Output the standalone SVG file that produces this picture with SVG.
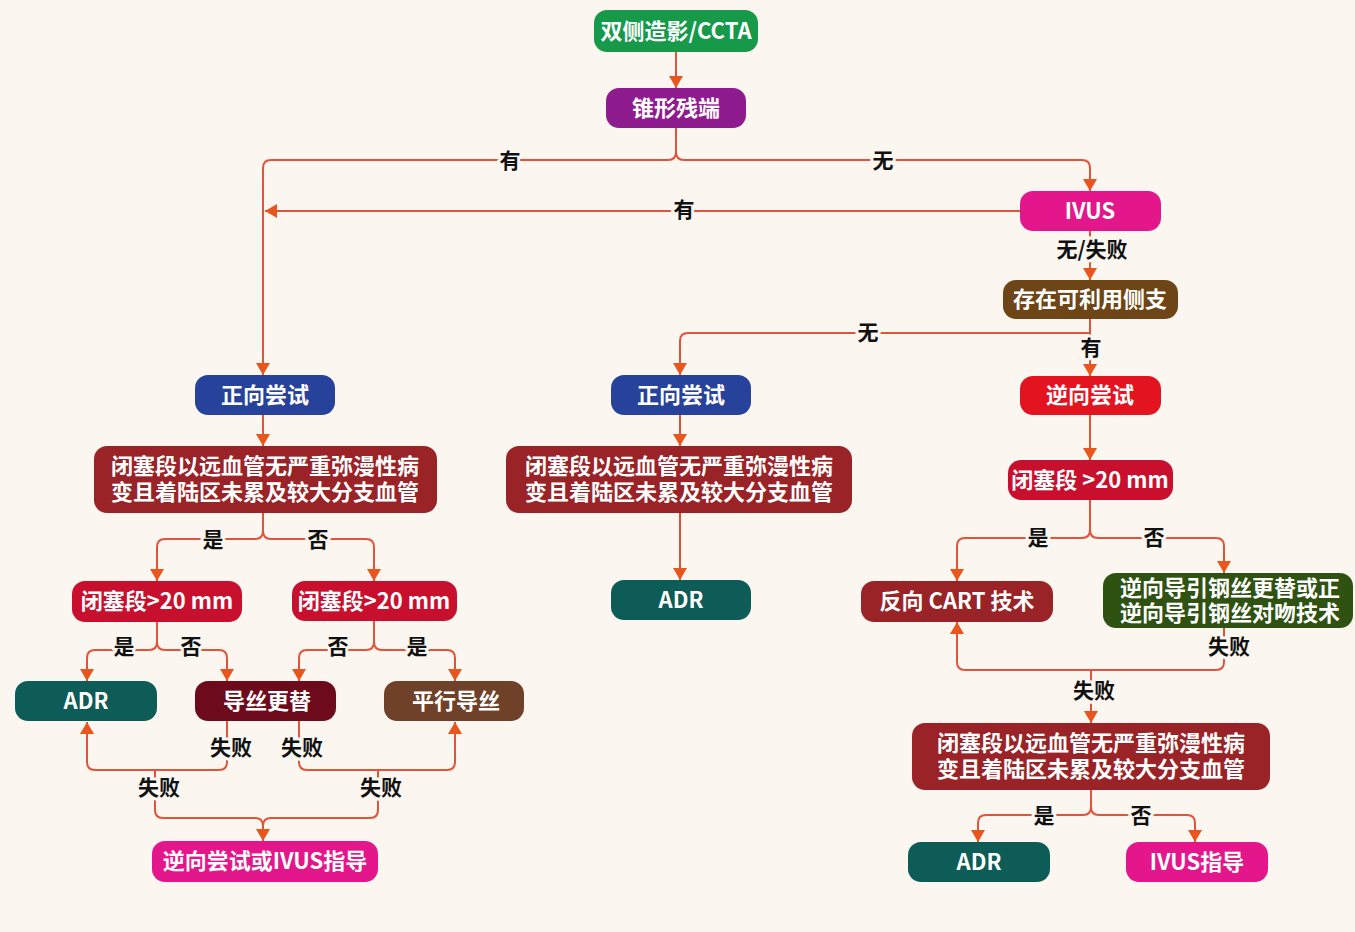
<svg xmlns="http://www.w3.org/2000/svg" width="1355" height="932" viewBox="0 0 1355 932">
<defs>
<marker id="arr" viewBox="0 0 12 14" refX="12" refY="7" markerWidth="12" markerHeight="14" markerUnits="userSpaceOnUse" orient="auto">
<path d="M0,0 L12,7 L0,14 z" fill="#E8561E"/>
</marker>
<style>
.bg{fill:#FBF6F0}
.n rect{rx:13;ry:13}
.n text{font-family:"Noto Sans CJK SC","Noto Sans",sans-serif;font-weight:bold;font-size:22px;fill:#ffffff;text-anchor:middle}
.c path{fill:none;stroke:#E2543A;stroke-width:2}
.c path.a{marker-end:url(#arr)}
.lbl text{font-family:"Noto Sans CJK SC","Noto Sans",sans-serif;font-weight:bold;font-size:21px;fill:#111111;text-anchor:middle;stroke:#FBF6F0;stroke-width:6;paint-order:stroke;stroke-linejoin:round}
.green{fill:#17994A}.purple{fill:#8E1C8E}.mag{fill:#E3168C}.brown{fill:#6E4516}.red{fill:#E3141F}
.red2{fill:#C8102E}.dred{fill:#9A2328}.dgreen{fill:#2F5212}.teal{fill:#0D5C57}.blue{fill:#26429B}
.maroon{fill:#6D0B1C}.brown2{fill:#6F4129}
</style>
</defs>
<rect class="bg" x="0" y="0" width="1355" height="932"/>

<g class="c" id="connectors">
<path class="a" d="M676,52 V88"/>
<path class="a" d="M676,128 V152 Q676,160 668,160 H271 Q263,160 263,168 V375"/>
<path class="a" d="M676,152 Q676,160 684,160 H1082 Q1090,160 1090,168 V191"/>
<path class="a" d="M1020,211 H265"/>
<path class="a" d="M1090,231 V280"/>
<path class="a" d="M1090,319 V376"/>
<path class="a" d="M1090,333 H688 Q680,333 680,341 V375"/>
<path class="a" d="M1090,415 V460"/>
<path class="a" d="M1090,500 V530 Q1090,538 1082,538 H965 Q957,538 957,546 V581"/>
<path class="a" d="M1090,530 Q1090,538 1098,538 H1216 Q1224,538 1224,546 V573"/>
<path class="a" d="M1224,628 V662 Q1224,670 1216,670 H965 Q957,670 957,662 V622"/>
<path class="a" d="M1091,670 V723"/>
<path class="a" d="M1091,790 V807 Q1091,815 1083,815 H986 Q978,815 978,823 V842"/>
<path class="a" d="M1091,807 Q1091,815 1099,815 H1187 Q1195,815 1195,823 V842"/>
<path class="a" d="M263,415 V446"/>
<path class="a" d="M263,513 V531 Q263,539 255,539 H165 Q157,539 157,547 V581"/>
<path class="a" d="M263,531 Q263,539 271,539 H366 Q374,539 374,547 V581"/>
<path class="a" d="M157,622 V642 Q157,650 149,650 H95 Q87,650 87,658 V681"/>
<path class="a" d="M157,642 Q157,650 165,650 H219 Q227,650 227,658 V681"/>
<path class="a" d="M374,621 V642 Q374,650 366,650 H307 Q299,650 299,658 V681"/>
<path class="a" d="M374,642 Q374,650 382,650 H447 Q455,650 455,658 V681"/>
<path class="a" d="M227,721 V762 Q227,770 219,770 H95 Q87,770 87,762 V722"/>
<path class="a" d="M299,721 V762 Q299,770 307,770 H447 Q455,770 455,762 V722"/>
<path class="a" d="M155,770 V810 Q155,818 163,818 H255 Q263,818 263,826 V841"/>
<path d="M378,770 V810 Q378,818 370,818 H271 Q263,818 263,826"/>
<path class="a" d="M680,415 V446"/>
<path class="a" d="M680,513 V580"/>
</g>

<g class="lbl" id="labels">
<text x="510" y="168">有</text>
<text x="883" y="168">无</text>
<text x="684" y="217">有</text>
<text x="1092" y="257">无/失败</text>
<text x="868" y="340">无</text>
<text x="1091" y="355">有</text>
<text x="1038" y="545">是</text>
<text x="1154" y="545">否</text>
<text x="1229" y="654">失败</text>
<text x="1094" y="698">失败</text>
<text x="1044" y="823">是</text>
<text x="1141" y="823">否</text>
<text x="213" y="547">是</text>
<text x="318" y="547">否</text>
<text x="124" y="654">是</text>
<text x="191" y="654">否</text>
<text x="338" y="654">否</text>
<text x="417" y="654">是</text>
<text x="231" y="755">失败</text>
<text x="302" y="755">失败</text>
<text x="159" y="795">失败</text>
<text x="381" y="795">失败</text>
</g>

<g class="n" id="n-ccta"><rect class="green" x="594" y="10" width="164" height="42"/><text x="676" y="39">双侧造影/CCTA</text></g>
<g class="n" id="n-stump"><rect class="purple" x="606" y="88" width="140" height="40"/><text x="676" y="116">锥形残端</text></g>
<g class="n" id="n-ivus"><rect class="mag" x="1020" y="191" width="141" height="40"/><text x="1090" y="219">IVUS</text></g>
<g class="n" id="n-collat"><rect class="brown" x="1003" y="280" width="175" height="39"/><text x="1090" y="307">存在可利用侧支</text></g>
<g class="n" id="n-retro"><rect class="red" x="1020" y="376" width="141" height="39"/><text x="1090" y="403">逆向尝试</text></g>
<g class="n" id="n-occ-r"><rect class="red2" x="1008" y="460" width="165" height="40"/><text x="1090" y="488">闭塞段 &gt;20 mm</text></g>
<g class="n" id="n-cart"><rect class="dred" x="861" y="581" width="192" height="41"/><text x="957" y="609">反向 CART 技术</text></g>
<g class="n" id="n-kiss"><rect class="dgreen" x="1103" y="573" width="250" height="55"/><text x="1230" y="596">逆向导引钢丝更替或正</text><text x="1230" y="621">逆向导引钢丝对吻技术</text></g>
<g class="n" id="n-dist-r"><rect class="dred" x="912" y="723" width="358" height="67"/><text x="1091" y="751">闭塞段以远血管无严重弥漫性病</text><text x="1091" y="777">变且着陆区未累及较大分支血管</text></g>
<g class="n" id="n-adr-r"><rect class="teal" x="908" y="842" width="142" height="40"/><text x="979" y="870">ADR</text></g>
<g class="n" id="n-ivusg"><rect class="mag" x="1126" y="842" width="142" height="40"/><text x="1197" y="870">IVUS指导</text></g>

<g class="n" id="n-ante-l"><rect class="blue" x="195" y="375" width="140" height="40"/><text x="265" y="403">正向尝试</text></g>
<g class="n" id="n-dist-l"><rect class="dred" x="94" y="446" width="343" height="67"/><text x="265" y="474">闭塞段以远血管无严重弥漫性病</text><text x="265" y="500">变且着陆区未累及较大分支血管</text></g>
<g class="n" id="n-occ-la"><rect class="red2" x="72" y="581" width="170" height="41"/><text x="157" y="609">闭塞段&gt;20 mm</text></g>
<g class="n" id="n-occ-lb"><rect class="red2" x="292" y="581" width="165" height="40"/><text x="374" y="609">闭塞段&gt;20 mm</text></g>
<g class="n" id="n-adr-l"><rect class="teal" x="15" y="681" width="142" height="40"/><text x="86" y="709">ADR</text></g>
<g class="n" id="n-wire"><rect class="maroon" x="195" y="681" width="141" height="40"/><text x="267" y="709">导丝更替</text></g>
<g class="n" id="n-parallel"><rect class="brown2" x="384" y="681" width="140" height="40"/><text x="456" y="709">平行导丝</text></g>
<g class="n" id="n-retro-ivus"><rect class="mag" x="152" y="841" width="226" height="41"/><text x="265" y="869">逆向尝试或IVUS指导</text></g>

<g class="n" id="n-ante-m"><rect class="blue" x="611" y="375" width="140" height="40"/><text x="681" y="403">正向尝试</text></g>
<g class="n" id="n-dist-m"><rect class="dred" x="506" y="446" width="346" height="67"/><text x="679" y="474">闭塞段以远血管无严重弥漫性病</text><text x="679" y="500">变且着陆区未累及较大分支血管</text></g>
<g class="n" id="n-adr-m"><rect class="teal" x="611" y="580" width="140" height="40"/><text x="681" y="608">ADR</text></g>
</svg>
